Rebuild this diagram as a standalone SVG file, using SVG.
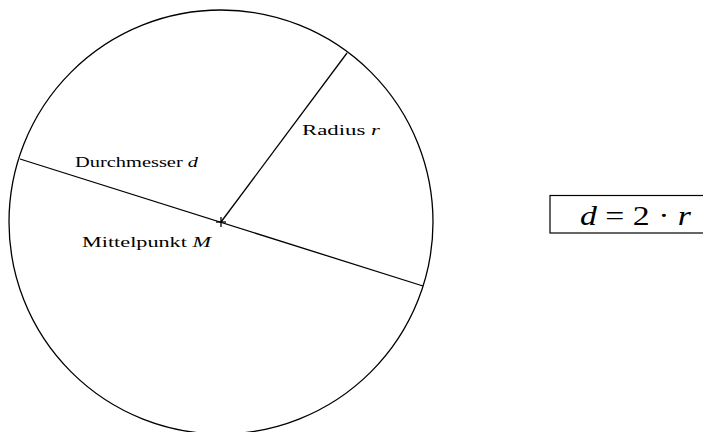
<svg xmlns="http://www.w3.org/2000/svg" width="703" height="432" viewBox="0 0 703 432">
<style>
.ln{stroke:#000;stroke-width:1.3;fill:none}
.lbl{font-family:"Liberation Serif","DejaVu Serif",serif;font-size:14px;fill:#000}
.it{font-style:italic}
.eq{font-family:"Liberation Serif","DejaVu Serif",serif;font-size:27px;fill:#000}
</style>
<rect width="703" height="432" fill="#fff"/>
<g id="circle">
<circle class="ln" cx="221" cy="222" r="212"/>
</g>
<g id="connectors">
<line class="ln" x1="20" y1="159" x2="423" y2="286"/>
<line class="ln" x1="221" y1="222" x2="347" y2="53"/>
</g>
<g id="center">
<line class="ln" x1="216" y1="222" x2="226" y2="222"/>
<line class="ln" x1="221" y1="217" x2="221" y2="227"/>
</g>
<g id="label-durchmesser">
<text class="lbl" x="75" y="167" textLength="123" lengthAdjust="spacingAndGlyphs">Durchmesser <tspan class="it">d</tspan></text>
</g>
<g id="label-radius">
<text class="lbl" x="302" y="134.5" textLength="78" lengthAdjust="spacingAndGlyphs">Radius <tspan class="it">r</tspan></text>
</g>
<g id="label-mittelpunkt">
<text class="lbl" x="82" y="247" textLength="129" lengthAdjust="spacingAndGlyphs">Mittelpunkt <tspan class="it">M</tspan></text>
</g>
<g id="formula">
<rect x="550" y="195.5" width="160" height="37.5" fill="none" stroke="#000" stroke-width="1.2"/>
<text class="eq" x="580" y="225" textLength="111" lengthAdjust="spacingAndGlyphs"><tspan class="it">d</tspan> = 2 · <tspan class="it">r</tspan></text>
</g>
</svg>
